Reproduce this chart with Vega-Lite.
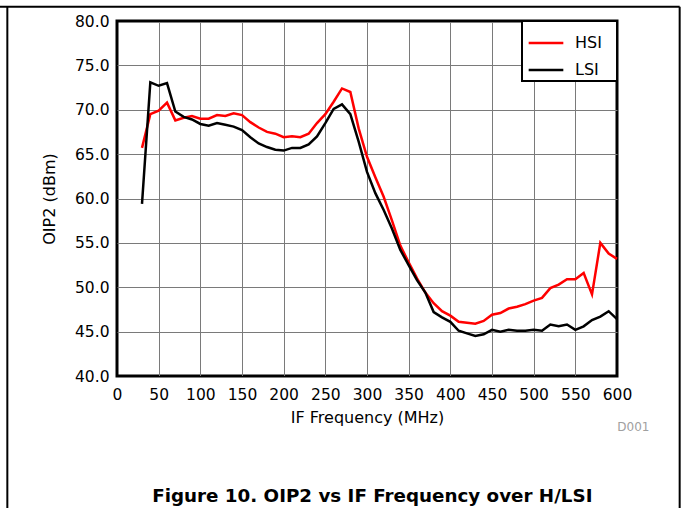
{
  "$schema": "https://vega.github.io/schema/vega-lite/v6.json",
  "width": 500,
  "height": 355,
  "autosize": {"type": "none"},
  "padding": {"left": 117, "top": 21, "right": 64, "bottom": 132},
  "background": "white",
  "datasets": {
    "oip2": [
      {"f": 30, "v": 65.7, "s": "HSI"}, {"f": 40, "v": 69.5, "s": "HSI"}, {"f": 50, "v": 69.9, "s": "HSI"}, {"f": 60, "v": 70.8, "s": "HSI"},
      {"f": 70, "v": 68.8, "s": "HSI"}, {"f": 80, "v": 69.1, "s": "HSI"}, {"f": 90, "v": 69.3, "s": "HSI"}, {"f": 100, "v": 69.0, "s": "HSI"},
      {"f": 110, "v": 69.0, "s": "HSI"}, {"f": 120, "v": 69.4, "s": "HSI"}, {"f": 130, "v": 69.3, "s": "HSI"}, {"f": 140, "v": 69.6, "s": "HSI"},
      {"f": 150, "v": 69.4, "s": "HSI"}, {"f": 160, "v": 68.6, "s": "HSI"}, {"f": 170, "v": 68.0, "s": "HSI"}, {"f": 180, "v": 67.5, "s": "HSI"},
      {"f": 190, "v": 67.3, "s": "HSI"}, {"f": 200, "v": 66.9, "s": "HSI"}, {"f": 210, "v": 67.0, "s": "HSI"}, {"f": 220, "v": 66.9, "s": "HSI"},
      {"f": 230, "v": 67.3, "s": "HSI"}, {"f": 240, "v": 68.5, "s": "HSI"}, {"f": 250, "v": 69.5, "s": "HSI"}, {"f": 260, "v": 70.9, "s": "HSI"},
      {"f": 270, "v": 72.4, "s": "HSI"}, {"f": 280, "v": 72.0, "s": "HSI"}, {"f": 290, "v": 67.9, "s": "HSI"}, {"f": 300, "v": 64.7, "s": "HSI"},
      {"f": 310, "v": 62.4, "s": "HSI"}, {"f": 320, "v": 60.2, "s": "HSI"}, {"f": 330, "v": 57.5, "s": "HSI"}, {"f": 340, "v": 54.7, "s": "HSI"},
      {"f": 350, "v": 52.8, "s": "HSI"}, {"f": 360, "v": 51.0, "s": "HSI"}, {"f": 370, "v": 49.4, "s": "HSI"}, {"f": 380, "v": 48.2, "s": "HSI"},
      {"f": 390, "v": 47.3, "s": "HSI"}, {"f": 400, "v": 46.8, "s": "HSI"}, {"f": 410, "v": 46.1, "s": "HSI"}, {"f": 420, "v": 46.0, "s": "HSI"},
      {"f": 430, "v": 45.9, "s": "HSI"}, {"f": 440, "v": 46.2, "s": "HSI"}, {"f": 450, "v": 46.9, "s": "HSI"}, {"f": 460, "v": 47.1, "s": "HSI"},
      {"f": 470, "v": 47.6, "s": "HSI"}, {"f": 480, "v": 47.8, "s": "HSI"}, {"f": 490, "v": 48.1, "s": "HSI"}, {"f": 500, "v": 48.5, "s": "HSI"},
      {"f": 510, "v": 48.8, "s": "HSI"}, {"f": 520, "v": 49.9, "s": "HSI"}, {"f": 530, "v": 50.3, "s": "HSI"}, {"f": 540, "v": 50.9, "s": "HSI"},
      {"f": 550, "v": 50.9, "s": "HSI"}, {"f": 560, "v": 51.6, "s": "HSI"}, {"f": 570, "v": 49.2, "s": "HSI"}, {"f": 580, "v": 55.0, "s": "HSI"},
      {"f": 590, "v": 53.8, "s": "HSI"}, {"f": 600, "v": 53.2, "s": "HSI"},
      {"f": 30, "v": 59.4, "s": "LSI"}, {"f": 40, "v": 73.1, "s": "LSI"}, {"f": 50, "v": 72.7, "s": "LSI"}, {"f": 60, "v": 73.0, "s": "LSI"},
      {"f": 70, "v": 69.8, "s": "LSI"}, {"f": 80, "v": 69.2, "s": "LSI"}, {"f": 90, "v": 68.9, "s": "LSI"}, {"f": 100, "v": 68.4, "s": "LSI"},
      {"f": 110, "v": 68.2, "s": "LSI"}, {"f": 120, "v": 68.5, "s": "LSI"}, {"f": 130, "v": 68.3, "s": "LSI"}, {"f": 140, "v": 68.1, "s": "LSI"},
      {"f": 150, "v": 67.7, "s": "LSI"}, {"f": 160, "v": 66.9, "s": "LSI"}, {"f": 170, "v": 66.2, "s": "LSI"}, {"f": 180, "v": 65.8, "s": "LSI"},
      {"f": 190, "v": 65.5, "s": "LSI"}, {"f": 200, "v": 65.4, "s": "LSI"}, {"f": 210, "v": 65.7, "s": "LSI"}, {"f": 220, "v": 65.7, "s": "LSI"},
      {"f": 230, "v": 66.1, "s": "LSI"}, {"f": 240, "v": 67.0, "s": "LSI"}, {"f": 250, "v": 68.5, "s": "LSI"}, {"f": 260, "v": 70.1, "s": "LSI"},
      {"f": 270, "v": 70.6, "s": "LSI"}, {"f": 280, "v": 69.5, "s": "LSI"}, {"f": 290, "v": 66.4, "s": "LSI"}, {"f": 300, "v": 63.0, "s": "LSI"},
      {"f": 310, "v": 60.6, "s": "LSI"}, {"f": 320, "v": 58.7, "s": "LSI"}, {"f": 330, "v": 56.6, "s": "LSI"}, {"f": 340, "v": 54.2, "s": "LSI"},
      {"f": 350, "v": 52.5, "s": "LSI"}, {"f": 360, "v": 50.8, "s": "LSI"}, {"f": 370, "v": 49.4, "s": "LSI"}, {"f": 380, "v": 47.2, "s": "LSI"},
      {"f": 390, "v": 46.6, "s": "LSI"}, {"f": 400, "v": 46.1, "s": "LSI"}, {"f": 410, "v": 45.1, "s": "LSI"}, {"f": 420, "v": 44.8, "s": "LSI"},
      {"f": 430, "v": 44.5, "s": "LSI"}, {"f": 440, "v": 44.7, "s": "LSI"}, {"f": 450, "v": 45.2, "s": "LSI"}, {"f": 460, "v": 45.0, "s": "LSI"},
      {"f": 470, "v": 45.2, "s": "LSI"}, {"f": 480, "v": 45.1, "s": "LSI"}, {"f": 490, "v": 45.1, "s": "LSI"}, {"f": 500, "v": 45.2, "s": "LSI"},
      {"f": 510, "v": 45.1, "s": "LSI"}, {"f": 520, "v": 45.8, "s": "LSI"}, {"f": 530, "v": 45.6, "s": "LSI"}, {"f": 540, "v": 45.8, "s": "LSI"},
      {"f": 550, "v": 45.2, "s": "LSI"}, {"f": 560, "v": 45.6, "s": "LSI"}, {"f": 570, "v": 46.3, "s": "LSI"}, {"f": 580, "v": 46.7, "s": "LSI"},
      {"f": 590, "v": 47.3, "s": "LSI"}, {"f": 600, "v": 46.4, "s": "LSI"}
    ],
    "one": [{"k": 1}]
  },
  "layer": [
    {
      "data": {"name": "oip2"},
      "mark": {"type": "line", "strokeWidth": 2.5},
      "encoding": {
        "x": {
          "field": "f", "type": "quantitative",
          "scale": {"domain": [0, 600], "nice": false, "zero": false},
          "axis": {"values": [0, 50, 100, 150, 200, 250, 300, 350, 400, 450, 500, 550, 600], "title": "IF Frequency (MHz)", "labelPadding": 11, "titlePadding": 7, "labelFlush": false, "labelOverlap": false}
        },
        "y": {
          "field": "v", "type": "quantitative",
          "scale": {"domain": [40, 80], "nice": false, "zero": false},
          "axis": {"values": [40, 45, 50, 55, 60, 65, 70, 75, 80], "format": ".1f", "title": "OIP2 (dBm)", "labelPadding": 8, "titlePadding": 17, "labelFlush": false, "labelOverlap": false}
        },
        "color": {
          "field": "s", "type": "nominal",
          "scale": {"domain": ["HSI", "LSI"], "range": ["#ff0000", "#000000"]},
          "legend": {"title": " ", "labelExpr": "datum.label + '\u2800'"}
        }
      }
    },
    {
      "data": {"name": "one"},
      "mark": {"type": "text", "text": "D001", "font": "DejaVu Sans", "fontSize": 12, "color": "#a0a0a0", "align": "center", "baseline": "middle"},
      "encoding": {"x": {"datum": 619.6}, "y": {"datum": 34.2}}
    },
    {
      "data": {"name": "one"},
      "mark": {"type": "text", "text": "Figure 10. OIP2 vs IF Frequency over H/LSI", "font": "DejaVu Sans", "fontSize": 18.3, "fontWeight": "bold", "color": "black", "align": "center", "baseline": "middle"},
      "encoding": {"x": {"datum": 306.4}, "y": {"datum": 26.4}}
    },
    {
      "data": {"name": "one"},
      "mark": {"type": "rule", "strokeWidth": 2, "color": "black"},
      "encoding": {"x": {"datum": -131.6}, "y": {"datum": 81.6}, "y2": {"datum": 24.5}}
    },
    {
      "data": {"name": "one"},
      "mark": {"type": "rule", "strokeWidth": 2, "color": "black"},
      "encoding": {"x": {"datum": 675.2}, "y": {"datum": 81.6}, "y2": {"datum": 24.5}}
    },
    {
      "data": {"name": "one"},
      "mark": {"type": "rule", "strokeWidth": 2, "color": "black"},
      "encoding": {"x": {"datum": -141}, "x2": {"datum": 675.2}, "y": {"datum": 81.6}}
    }
  ],
  "config": {
    "font": "DejaVu Sans",
    "view": {"stroke": "black", "strokeWidth": 3},
    "axis": {
      "grid": true,
      "gridColor": {"condition": {"test": "datum.value == 0 || datum.value == 600 || datum.value == 40 || datum.value == 80", "value": "black"}, "value": "#7a7a7a"},
      "gridWidth": 1,
      "domain": false,
      "ticks": false,
      "labelFont": "DejaVu Sans",
      "labelFontSize": 15.5,
      "labelColor": "black",
      "titleFont": "DejaVu Sans",
      "titleFontSize": 16,
      "titleFontWeight": "normal",
      "titleColor": "black"
    },
    "legend": {
      "orient": "top-right",
      "offset": 0,
      "padding": 3,
      "rowPadding": -12,
      "strokeColor": "black",
      "strokeWidth": 2,
      "fillColor": "white",
      "symbolType": "stroke",
      "symbolSize": 1200,
      "symbolStrokeWidth": 2.5,
      "labelFont": "DejaVu Sans",
      "labelFontSize": 16,
      "labelColor": "black",
      "labelOffset": 10,
      "titleOrient": "left",
      "titleFontSize": 1,
      "titlePadding": 2
    }
  }
}
